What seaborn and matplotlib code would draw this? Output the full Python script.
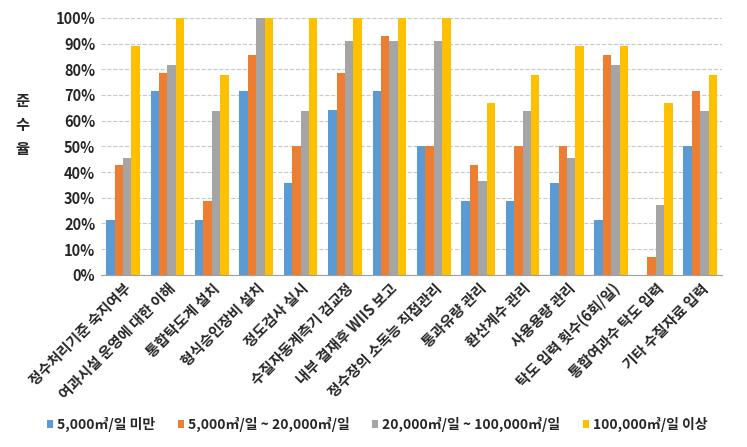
import pandas as pd
import matplotlib.pyplot as plt
import seaborn as sns

categories = [
    '정수처리기준 숙지여부', '여과시설 운영에 대한 이해', '통합탁도계 설치', '형식승인장비 설치',
    '정도검사 실시', '수질자동계측기 검교정', '내부 결재후 WIIS 보고', '정수장의 소독능 직접관리',
    '통과유량 관리', '환산계수 관리', '사용용량 관리', '탁도 입력 횟수(6회/일)',
    '통합여과수 탁도 입력', '기타 수질자료 입력',
]
series_names = ['5,000㎥/일 미만', '5,000㎥/일 ~ 20,000㎥/일',
                '20,000㎥/일 ~ 100,000㎥/일', '100,000㎥/일 이상']
small = [21.4, 71.4, 21.4, 71.4, 35.7, 64.3, 71.4, 50.0, 28.6, 28.6, 35.7, 21.4, 0.0, 50.0]
medium = [42.9, 78.6, 28.6, 85.7, 50.0, 78.6, 92.9, 50.0, 42.9, 50.0, 50.0, 85.7, 7.1, 71.4]
large = [45.5, 81.8, 63.6, 100.0, 63.6, 90.9, 90.9, 90.9, 36.4, 63.6, 45.5, 81.8, 27.3, 63.6]
xlarge = [88.9, 100.0, 77.8, 100.0, 100.0, 100.0, 100.0, 100.0, 66.7, 77.8, 88.9, 88.9, 66.7, 77.8]
colors = ['#5B9BD5', '#ED7D31', '#A5A5A5', '#FFC000']


def build_frame():
    rows = []
    for name, vals in zip(series_names, [small, medium, large, xlarge]):
        for cat, v in zip(categories, vals):
            rows.append({'항목': cat, '규모': name, '준수율': v})
    return pd.DataFrame(rows)


def main():
    sns.set_style('white')
    plt.rcParams['font.family'] = ['Noto Sans CJK KR', 'DejaVu Sans']
    df = build_frame()

    fig = plt.figure(figsize=(7.47, 4.47), dpi=100)
    ax = fig.add_axes([0.135, 0.385, 0.832, 0.575])

    sns.barplot(data=df, x='항목', y='준수율', hue='규모', palette=colors,
                width=0.76, ax=ax, saturation=1, edgecolor='none')

    ax.set_ylim(0, 100)
    ax.set_xlim(-0.5, len(categories) - 0.5)
    ax.set_yticks(range(0, 101, 10))
    ax.set_yticklabels([f'{t}%' for t in range(0, 101, 10)], fontsize=10.5, fontweight='bold')
    ax.yaxis.grid(True, linestyle='--', color='#C8C8C8', linewidth=0.8)
    ax.set_axisbelow(True)
    for s in ['top', 'right', 'left']:
        ax.spines[s].set_visible(False)
    ax.spines['bottom'].set_color('#A0A0A0')
    ax.tick_params(axis='both', length=0, pad=4)
    ax.set_xticks(range(len(categories)))
    ax.set_xticklabels(categories, rotation=45, ha='right', rotation_mode='anchor',
                       fontsize=10.5, fontweight='bold')
    ax.set_xlabel('')
    ax.set_ylabel('')
    fig.text(0.03, 0.72, '준\n수\n율', ha='center', va='center', fontsize=11,
             fontweight='bold', linespacing=1.6)

    handles, labels = ax.get_legend_handles_labels()
    ax.legend_.remove()
    fig.legend(handles, labels, loc='lower center', bbox_to_anchor=(0.505, 0.005), ncol=4,
               frameon=False, handlelength=0.45, handleheight=0.55,
               handletextpad=0.3, columnspacing=1.6, prop={'weight': 'bold', 'size': 10})

    fig.savefig('out.png', dpi=100)
    plt.close(fig)


if __name__ == '__main__':
    main()
